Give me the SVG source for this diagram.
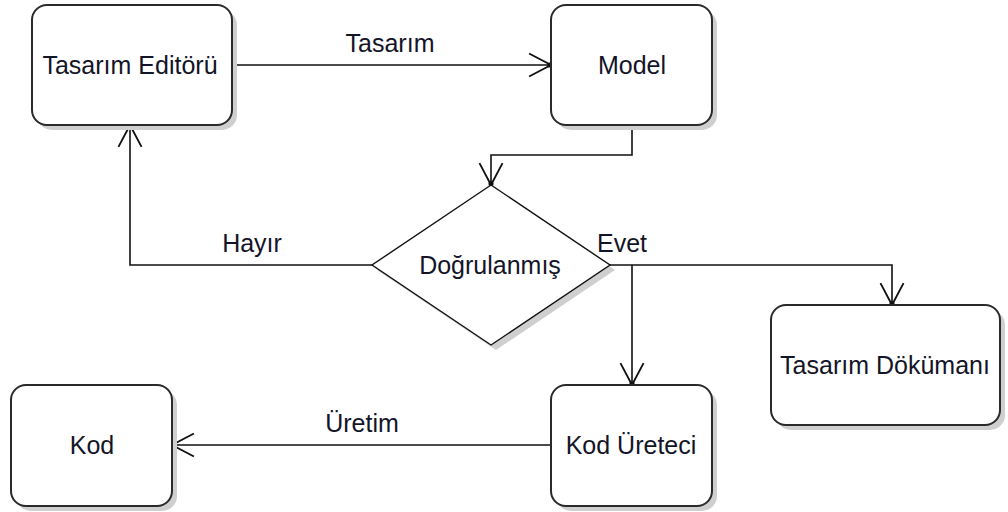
<svg xmlns="http://www.w3.org/2000/svg" width="1008" height="512" viewBox="0 0 1008 512">
<style>
.box{fill:#fff;stroke:#2a2a2a;stroke-width:2}
.shadow{fill:#cfcfcf;stroke:none}
.lbl{font-family:"Liberation Sans",Arial,sans-serif;font-size:25px;fill:#141428;text-anchor:middle}
.conn{fill:none;stroke:#111;stroke-width:1.6}
</style>
<defs>
<marker id="arr" markerUnits="userSpaceOnUse" markerWidth="30" markerHeight="30" refX="0" refY="0" viewBox="-22 -13 26 26" orient="auto" overflow="visible">
<path d="M-19,-10 L0,0 L-19,10" fill="none" stroke="#111" stroke-width="1.6"/>
<circle cx="-1" cy="0" r="2.2" fill="#111"/>
</marker>
</defs>
<rect width="1008" height="512" fill="#fff"/>
<g id="connectors">
<path class="conn" d="M232,65 L551,65" marker-end="url(#arr)"/>
<path class="conn" d="M632,125 L632,155 L491,155 L491,185" marker-end="url(#arr)"/>
<path class="conn" d="M372,265 L130,265 L130,125" marker-end="url(#arr)"/>
<path class="conn" d="M610,265 L892,265 L892,305" marker-end="url(#arr)"/>
<path class="conn" d="M632,265 L632,385" marker-end="url(#arr)"/>
<path class="conn" d="M551,445 L172,445" marker-end="url(#arr)"/>
<text class="lbl" x="390" y="52">Tasarım</text>
<text class="lbl" x="252" y="252">Hayır</text>
<text class="lbl" x="622" y="252">Evet</text>
<text class="lbl" x="362" y="432">Üretim</text>
</g>
<g id="tasarim-editoru">
<rect class="shadow" x="37" y="10" width="200" height="120" rx="15"/>
<rect class="box" x="32" y="5" width="200" height="120" rx="15"/>
<text class="lbl" x="130" y="74">Tasarım Editörü</text>
</g>
<g id="model">
<rect class="shadow" x="556" y="10" width="161" height="120" rx="15"/>
<rect class="box" x="551" y="5" width="161" height="120" rx="15"/>
<text class="lbl" x="632" y="74">Model</text>
</g>
<g id="dogrulanmis">
<polygon class="shadow" points="496,190 615,270 496,350 377,270"/>
<polygon points="491,185 610,265 491,345 372,265" fill="#fff" stroke="#111" stroke-width="1.4"/>
<text class="lbl" x="490" y="274">Doğrulanmış</text>
</g>
<g id="tasarim-dokumani">
<rect class="shadow" x="776" y="310" width="229" height="120" rx="15"/>
<rect class="box" x="771" y="305" width="229" height="120" rx="15"/>
<text class="lbl" x="885" y="374">Tasarım Dökümanı</text>
</g>
<g id="kod">
<rect class="shadow" x="16" y="390" width="161" height="121" rx="15"/>
<rect class="box" x="11" y="385" width="161" height="121" rx="15"/>
<text class="lbl" x="92" y="454">Kod</text>
</g>
<g id="kod-ureteci">
<rect class="shadow" x="556" y="390" width="161" height="121" rx="15"/>
<rect class="box" x="551" y="385" width="161" height="121" rx="15"/>
<text class="lbl" x="631" y="454">Kod Üreteci</text>
</g>
</svg>
